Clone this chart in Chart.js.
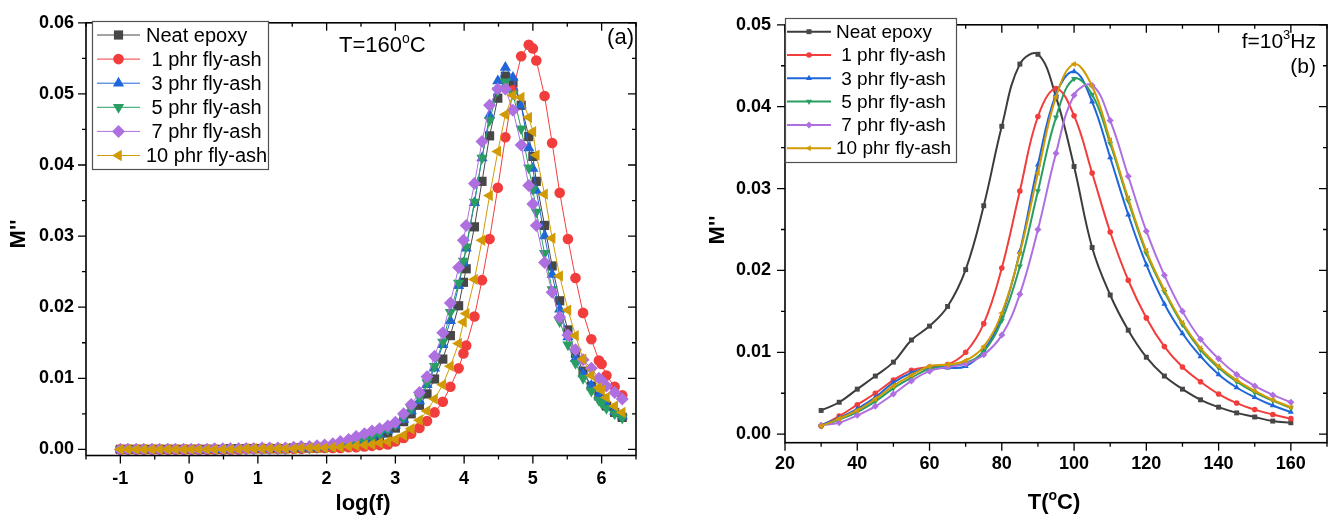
<!DOCTYPE html>
<html><head><meta charset="utf-8">
<script src="https://cdn.jsdelivr.net/npm/chart.js@4.4.1/dist/chart.umd.min.js"></script>
<style>
html,body{margin:0;padding:0;background:#fff;}
#wrap{position:relative;width:1336px;height:520px;overflow:hidden;background:#fff;}
canvas{position:absolute;top:0;}
</style></head><body>
<div id="wrap"><canvas id="ca" width="668" height="520" style="left:0px"></canvas><canvas id="cb" width="668" height="520" style="left:668px"></canvas></div>
<script>
// ---------------- DATA ----------------
const seriesLabels = ['Neat epoxy', ' 1 phr fly-ash', ' 3 phr fly-ash', ' 5 phr fly-ash', ' 7 phr fly-ash', '10 phr fly-ash'];

// Panel (a): M'' vs log(f) at T = 160 C
const logF = [-1.00,-0.89,-0.77,-0.66,-0.54,-0.43,-0.31,-0.20,-0.08,0.03,
  0.14,0.26,0.37,0.49,0.60,0.72,0.83,0.94,1.06,1.17,
  1.29,1.40,1.52,1.63,1.75,1.86,1.97,2.09,2.20,2.32,
  2.43,2.55,2.66,2.77,2.89,3.00,3.12,3.23,3.35,3.46,
  3.57,3.69,3.80,3.92,3.99,4.03,4.15,4.26,4.37,4.49,
  4.60,4.71,4.83,4.94,5.00,5.05,5.17,5.28,5.39,5.51,
  5.62,5.73,5.85,5.96,6.00,6.07,6.19,6.30];
const aNeat = [0,0,0,0,0,0,0,0,0,0,
  0,0,0,0,0.0001,0.0001,0.0001,0.0001,0.0001,0.0001,
  0.0001,0.0001,0.0002,0.0002,0.0002,0.0002,0.0003,0.0004,0.0005,0.0006,
  0.0008,0.0011,0.0014,0.0018,0.0023,0.0030,0.0039,0.0050,0.0062,0.0078,
  0.0099,0.0127,0.0160,0.0202,0.0235,0.0254,0.0313,0.0377,0.0441,0.0494,
  0.0525,0.0516,0.0484,0.0440,0.0412,0.0377,0.0315,0.0258,0.0209,0.0168,
  0.0135,0.0110,0.0089,0.0075,0.0071,0.0061,0.0052,0.0045];
const a1phr = [0,0,0,0,0,0,0,0,0,0,
  0,0,0,0,0,0,0.0001,0.0001,0.0001,0.0001,
  0.0001,0.0001,0.0001,0.0001,0.0002,0.0002,0.0002,0.0002,0.0002,0.0003,
  0.0003,0.0004,0.0005,0.0006,0.0007,0.0011,0.0016,0.0022,0.0030,0.0040,
  0.0052,0.0067,0.0088,0.0114,0.0135,0.0146,0.0187,0.0238,0.0296,0.0368,
  0.0439,0.0505,0.0553,0.0569,0.0564,0.0547,0.0497,0.0431,0.0361,0.0296,
  0.0241,0.0192,0.0155,0.0125,0.0120,0.0104,0.0088,0.0076];
const a3phr = [0,0,0,0,0,0,0,0,0,0,
  0,0,0,0,0.0001,0.0001,0.0001,0.0001,0.0001,0.0001,
  0.0001,0.0001,0.0002,0.0002,0.0002,0.0003,0.0004,0.0005,0.0006,0.0008,
  0.0010,0.0013,0.0017,0.0021,0.0027,0.0034,0.0042,0.0054,0.0068,0.0091,
  0.0114,0.0147,0.0181,0.0230,0.0262,0.0283,0.0347,0.0410,0.0470,0.0518,
  0.0537,0.0523,0.0484,0.0424,0.0395,0.0364,0.0300,0.0246,0.0197,0.0158,
  0.0128,0.0106,0.0090,0.0075,0.0071,0.0062,0.0053,0.0047];
const a5phr = [0,0,0,0,0,0,0,0,0,0,
  0,0,0,0,0.0001,0.0001,0.0001,0.0001,0.0001,0.0001,
  0.0001,0.0001,0.0002,0.0002,0.0002,0.0003,0.0004,0.0005,0.0006,0.0008,
  0.0010,0.0013,0.0017,0.0022,0.0028,0.0035,0.0045,0.0057,0.0073,0.0094,
  0.0117,0.0151,0.0193,0.0234,0.0265,0.0285,0.0348,0.0410,0.0463,0.0505,
  0.0517,0.0500,0.0451,0.0396,0.0366,0.0334,0.0276,0.0225,0.0180,0.0147,
  0.0121,0.0100,0.0082,0.0069,0.0065,0.0058,0.0050,0.0044];
const a7phr = [0,0,0,0,0,0,0,0,0,0,
  0,0,0.0001,0.0001,0.0001,0.0001,0.0001,0.0001,0.0002,0.0002,
  0.0002,0.0002,0.0003,0.0004,0.0004,0.0005,0.0006,0.0008,0.0011,0.0014,
  0.0018,0.0022,0.0026,0.0029,0.0033,0.0038,0.0050,0.0063,0.0080,0.0102,
  0.0131,0.0164,0.0206,0.0256,0.0294,0.0315,0.0374,0.0433,0.0484,0.0507,
  0.0507,0.0477,0.0428,0.0371,0.0345,0.0315,0.0263,0.0221,0.0186,0.0161,
  0.0140,0.0126,0.0114,0.0100,0.0097,0.0089,0.0080,0.0071];
const a10phr = [0,0,0,0,0,0,0,0,0,0,
  0,0,0,0,0,0,0.0001,0.0001,0.0001,0.0001,
  0.0001,0.0001,0.0001,0.0002,0.0002,0.0002,0.0002,0.0003,0.0003,0.0004,
  0.0005,0.0006,0.0007,0.0009,0.0011,0.0014,0.0020,0.0029,0.0041,0.0054,
  0.0071,0.0091,0.0117,0.0149,0.0179,0.0191,0.0239,0.0294,0.0357,0.0419,
  0.0471,0.0498,0.0495,0.0467,0.0447,0.0414,0.0359,0.0297,0.0244,0.0196,
  0.0160,0.0127,0.0104,0.0087,0.0083,0.0073,0.0061,0.0052];

// Panel (b): M'' vs T at f = 10^3 Hz
const tempC = [30,35,40,45,50,55,60,65,70,75,80,85,90,95,100,105,110,115,120,125,130,135,140,145,150,155,160];
const bNeat  = [0.0029,0.0039,0.0055,0.0071,0.0088,0.0115,0.0132,0.0156,0.0201,0.0279,0.0376,0.0452,0.0464,0.0412,0.0327,0.0228,0.0170,0.0127,0.0094,0.0071,0.0055,0.0042,0.0033,0.0026,0.0021,0.0016,0.0014];
const b1phr  = [0.0010,0.0022,0.0036,0.0050,0.0066,0.0078,0.0082,0.0085,0.0100,0.0135,0.0203,0.0297,0.0388,0.0422,0.0389,0.0319,0.0247,0.0188,0.0142,0.0107,0.0082,0.0064,0.0049,0.0038,0.0030,0.0024,0.0019];
const b3phr  = [0.0011,0.0020,0.0031,0.0045,0.0063,0.0075,0.0081,0.0081,0.0083,0.0102,0.0145,0.0223,0.0329,0.0415,0.0443,0.0406,0.0338,0.0268,0.0207,0.0159,0.0123,0.0095,0.0073,0.0057,0.0045,0.0035,0.0027];
const b5phr  = [0.0010,0.0018,0.0027,0.0040,0.0056,0.0069,0.0080,0.0083,0.0087,0.0101,0.0139,0.0205,0.0297,0.0387,0.0434,0.0415,0.0355,0.0285,0.0221,0.0174,0.0134,0.0103,0.0081,0.0064,0.0051,0.0041,0.0032];
const b7phr  = [0.0011,0.0014,0.0023,0.0034,0.0049,0.0065,0.0077,0.0082,0.0086,0.0097,0.0121,0.0171,0.0250,0.0343,0.0414,0.0426,0.0383,0.0315,0.0248,0.0194,0.0150,0.0116,0.0092,0.0073,0.0059,0.0048,0.0039];
const b10phr = [0.0010,0.0019,0.0029,0.0043,0.0059,0.0072,0.0083,0.0085,0.0090,0.0107,0.0148,0.0221,0.0319,0.0412,0.0452,0.0425,0.0359,0.0288,0.0224,0.0176,0.0136,0.0105,0.0083,0.0066,0.0053,0.0042,0.0033];

// Tick labels
const xTicksA = [-1,0,1,2,3,4,5,6];
const yTicksA = [0,0.01,0.02,0.03,0.04,0.05,0.06];
const xTicksB = [20,40,60,80,100,120,140,160];
const yTicksB = [0,0.01,0.02,0.03,0.04,0.05];

// ---------------- STYLE ----------------
const FONT = '"Liberation Sans", Arial, sans-serif';
Chart.defaults.font.family = FONT;
Chart.defaults.color = '#000';
const colors = ['#474747','#f23d3d','#1f66da','#2a9e62','#ae70e0','#d19b06'];
const lineColorsB = ['#3c3c3c','#f23d3d','#1f66da','#2a9e62','#ae70e0','#d19b06'];
const markerStyles = ['rect','circle','triangle','triangle','rectRot','triangle'];
const markerRot = [0,0,0,180,0,270];

function makeDatasets(xs, ysList, cfg) {
  return ysList.map((ys, i) => ({
    label: seriesLabels[i],
    data: xs.map((x, k) => ({x: x, y: ys[k]})),
    borderColor: cfg.line[i],
    backgroundColor: colors[i],
    pointBackgroundColor: colors[i],
    pointBorderColor: colors[i],
    pointBorderWidth: 0,
    pointStyle: markerStyles[i],
    pointRotation: markerRot[i],
    pointRadius: cfg.radius[i],
    pointHoverRadius: cfg.radius[i],
    borderWidth: cfg.lw,
    tension: cfg.tension,
    order: ysList.length - i,
    clip: false
  }));
}

function minorOf(maj, lo, hi) {
  const step = maj[1] - maj[0];
  const out = [];
  const first = maj[0] - step / 2;
  if (first >= lo - 1e-9) out.push(first);
  for (let i = 0; i < maj.length - 1; i++) out.push((maj[i] + maj[i + 1]) / 2);
  const last = maj[maj.length - 1] + step / 2;
  if (last <= hi + 1e-9) out.push(last);
  return out;
}

function frameTicks(o) {
  return {
    id: 'frameTicks',
    afterDatasetsDraw(chart) {
      const ctx = chart.ctx, a = chart.chartArea, xs = chart.scales.x, ys = chart.scales.y;
      ctx.save();
      ctx.strokeStyle = '#000';
      ctx.lineWidth = 1.3;
      ctx.beginPath();
      const seg = (x1, y1, x2, y2) => { ctx.moveTo(x1, y1); ctx.lineTo(x2, y2); };
      const xMin = minorOf(o.xMajor, xs.min, xs.max), yMin = minorOf(o.yMajor, ys.min, ys.max);
      o.xMajor.forEach(v => { const p = xs.getPixelForValue(v); seg(p, a.bottom, p, a.bottom + o.maj); seg(p, a.top, p, a.top + o.maj); });
      xMin.forEach(v => { const p = xs.getPixelForValue(v); seg(p, a.bottom, p, a.bottom + o.mn); seg(p, a.top, p, a.top + o.mn); });
      o.yMajor.forEach(v => { const p = ys.getPixelForValue(v); seg(a.left, p, a.left - o.maj, p); seg(a.right, p, a.right - o.maj, p); });
      yMin.forEach(v => { const p = ys.getPixelForValue(v); seg(a.left, p, a.left - o.mn, p); seg(a.right, p, a.right - o.mn, p); });
      ctx.stroke();
      ctx.lineWidth = 1.6;
      ctx.strokeRect(a.left, a.top, a.right - a.left, a.bottom - a.top);
      ctx.restore();
    }
  };
}

function drawMarker(ctx, ds, r, x, y) {
  ctx.fillStyle = ds.pointBackgroundColor;
  if (Chart.helpers && Chart.helpers.drawPoint) {
    Chart.helpers.drawPoint(ctx, {pointStyle: ds.pointStyle, rotation: ds.pointRotation, radius: r, borderWidth: 0}, x, y);
  } else {
    ctx.beginPath(); ctx.arc(x, y, r, 0, Math.PI * 2); ctx.fill();
  }
}

function legendBox(o) {
  return {
    id: 'legendBox',
    afterDatasetsDraw(chart) {
      const ctx = chart.ctx;
      ctx.save();
      ctx.fillStyle = '#fff';
      ctx.fillRect(o.x, o.y, o.w, o.h);
      ctx.strokeStyle = '#505050';
      ctx.lineWidth = 1.2;
      ctx.strokeRect(o.x + 0.5, o.y + 0.5, o.w, o.h);
      chart.data.datasets.forEach((ds, i) => {
        const cy = o.y0 + i * o.rowH;
        ctx.strokeStyle = ds.borderColor;
        ctx.lineWidth = o.lw;
        ctx.beginPath(); ctx.moveTo(o.lx0, cy); ctx.lineTo(o.lx1, cy); ctx.stroke();
        drawMarker(ctx, ds, ds.pointRadius, (o.lx0 + o.lx1) / 2, cy);
        ctx.fillStyle = '#000';
        ctx.font = o.font + 'px ' + FONT;
        ctx.textAlign = 'left';
        ctx.textBaseline = 'middle';
        ctx.fillText(ds.label, o.tx, cy + 1);
      });
      ctx.restore();
    }
  };
}

function rich(ctx, parts, x, y, align) {
  const widths = parts.map(p => { ctx.font = (p.w || 'normal') + ' ' + p.s + 'px ' + FONT; return ctx.measureText(p.t).width; });
  const total = widths.reduce((s, v) => s + v, 0);
  let cx = align === 'center' ? x - total / 2 : (align === 'right' ? x - total : x);
  ctx.textAlign = 'left';
  ctx.textBaseline = 'alphabetic';
  parts.forEach((p, i) => { ctx.font = (p.w || 'normal') + ' ' + p.s + 'px ' + FONT; ctx.fillText(p.t, cx, y + (p.dy || 0)); cx += widths[i]; });
}

function texts(o) {
  return {
    id: 'texts',
    afterDraw(chart) {
      const ctx = chart.ctx;
      ctx.save();
      ctx.fillStyle = '#000';
      o.items.forEach(it => rich(ctx, it.parts, it.x, it.y, it.align));
      ctx.translate(o.yt.x, o.yt.y);
      ctx.rotate(-Math.PI / 2);
      ctx.font = 'bold 22px ' + FONT;
      ctx.textAlign = 'center';
      ctx.textBaseline = 'middle';
      ctx.fillText("M''", 0, 0);
      ctx.restore();
    }
  };
}

function axes(xmin, xmax, xt, ymin, ymax, yt, yw, xh, xpad, ypad) {
  return {
    x: {
      type: 'linear', position: 'bottom', min: xmin, max: xmax,
      grid: {display: false, drawTicks: false}, border: {display: false},
      afterBuildTicks: s => { s.ticks = xt.map(v => ({value: v})); },
      afterFit: s => { s.height = xh; },
      ticks: {autoSkip: false, maxRotation: 0, padding: xpad, font: {size: 18, weight: 'bold'}, color: '#000', callback: v => String(v)}
    },
    y: {
      type: 'linear', position: 'left', min: ymin, max: ymax,
      grid: {display: false, drawTicks: false}, border: {display: false},
      afterBuildTicks: s => { s.ticks = yt.map(v => ({value: v})); },
      afterFit: s => { s.width = yw; },
      ticks: {autoSkip: false, padding: ypad, font: {size: 18, weight: 'bold'}, color: '#000', callback: v => Number(v).toFixed(2)}
    }
  };
}

const baseOpts = {
  responsive: false, animation: false, devicePixelRatio: 1,
  plugins: {legend: {display: false}, tooltip: {enabled: false}, title: {display: false}},
  events: []
};

// ---------------- CHART (a) ----------------
new Chart(document.getElementById('ca'), {
  type: 'line',
  data: {datasets: makeDatasets(logF, [aNeat, a1phr, a3phr, a5phr, a7phr, a10phr],
    {line: colors, radius: [6.5, 5.3, 6.5, 6.5, 6.5, 6.5], lw: 1, tension: 0})},
  options: Object.assign({}, baseOpts, {
    layout: {padding: {top: 16, right: 32, left: 0, bottom: 0}},
    scales: axes(-1.5, 6.5, xTicksA, -0.00086, 0.06, yTicksA, 86, 64.5, 13, 12)
  }),
  plugins: [
    frameTicks({xMajor: xTicksA, yMajor: yTicksA, maj: 8, mn: 4}),
    legendBox({x: 92, y: 21, w: 176, h: 148, y0: 35, rowH: 24.1, lx0: 97, lx1: 140, tx: 146, font: 20, lw: 1}),
    texts({
      items: [
        {parts: [{t: 'T=160', s: 22}, {t: 'o', s: 14, dy: -9}, {t: 'C', s: 22}], x: 339, y: 52, align: 'left'},
        {parts: [{t: '(a)', s: 22}], x: 634, y: 44, align: 'right'},
        {parts: [{t: 'log(f)', s: 22, w: 'bold'}], x: 363, y: 510, align: 'center'}
      ],
      yt: {x: 19, y: 234}
    })
  ]
});

// ---------------- CHART (b) ----------------
new Chart(document.getElementById('cb'), {
  type: 'line',
  data: {datasets: makeDatasets(tempC, [bNeat, b1phr, b3phr, b5phr, b7phr, b10phr],
    {line: lineColorsB, radius: [3.5, 2.8, 3.5, 3.5, 3.5, 3.5], lw: 2, tension: 0.4})},
  options: Object.assign({}, baseOpts, {
    layout: {padding: {top: 16.5, right: 9, left: 0, bottom: 0}},
    scales: axes(20, 170, xTicksB, -0.00104, 0.05, yTicksB, 117, 77.3, 11, 14)
  }),
  plugins: [
    frameTicks({xMajor: xTicksB, yMajor: yTicksB, maj: 8, mn: 4}),
    legendBox({x: 117, y: 18, w: 171, h: 144, y0: 31.7, rowH: 23.3, lx0: 119, lx1: 163, tx: 168, font: 19, lw: 2}),
    texts({
      items: [
        {parts: [{t: 'f=10', s: 21}, {t: '3', s: 13, dy: -9}, {t: 'Hz', s: 21}], x: 648, y: 48, align: 'right'},
        {parts: [{t: '(b)', s: 21}], x: 648, y: 73, align: 'right'},
        {parts: [{t: 'T(', s: 22, w: 'bold'}, {t: 'o', s: 14, w: 'bold', dy: -9}, {t: 'C)', s: 22, w: 'bold'}], x: 386, y: 509, align: 'center'}
      ],
      yt: {x: 50, y: 230}
    })
  ]
});
</script>
</body></html>
